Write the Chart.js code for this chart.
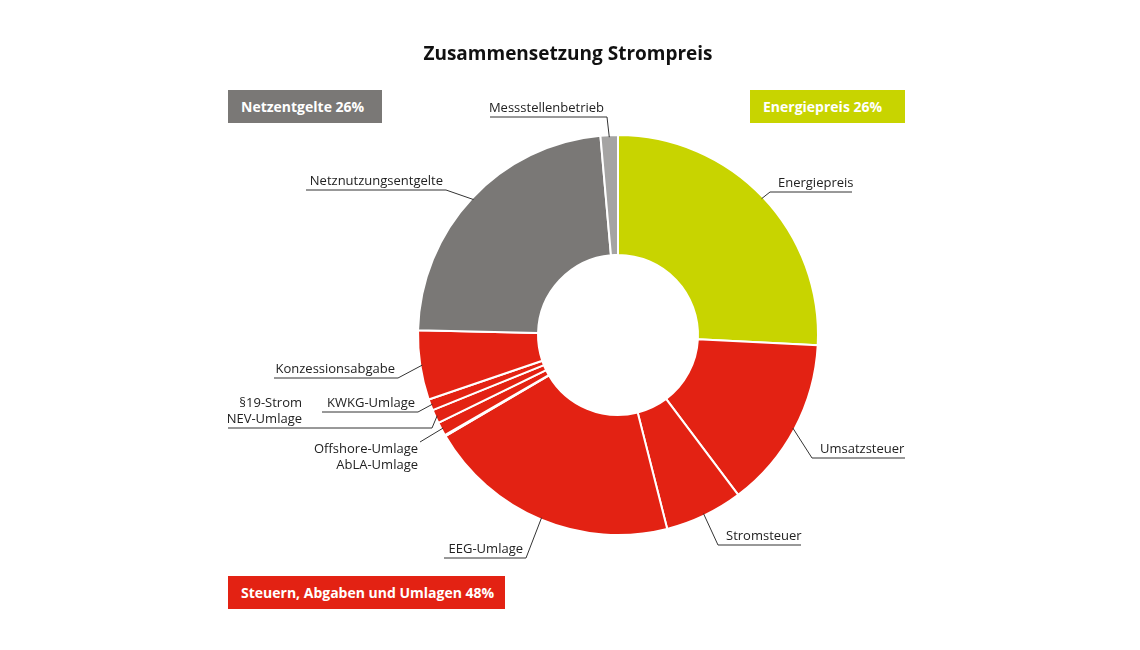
<!DOCTYPE html>
<html>
<head>
<meta charset="utf-8">
<script src="https://cdn.jsdelivr.net/npm/chart.js@4.4.1/dist/chart.umd.min.js"></script>
<style>
  html, body { margin: 0; padding: 0; background: #fff; }
  #wrap { position: relative; width: 1140px; height: 650px; }
  .box {
    position: absolute; color: #fff; font: bold 14px "Open Sans", "DejaVu Sans", sans-serif;
    padding: 0 13px; height: 33px; line-height: 33px; white-space: nowrap;
  }
  #title {
    position: absolute; left: 0; width: 1136px; top: 40px; text-align: center;
    font: bold 19px "Open Sans", "DejaVu Sans", sans-serif; color: #111;
  }
</style>
</head>
<body>
<div id="wrap">
  <canvas id="c" width="1140" height="650"></canvas>
  <div id="title">Zusammensetzung Strompreis</div>
  <div class="box" style="left:228px;top:90px;width:128px;background:#7a7876;">Netzentgelte 26%</div>
  <div class="box" style="left:750px;top:90px;width:129px;background:#c8d400;">Energiepreis 26%</div>
  <div class="box" style="left:228px;top:576px;width:251px;background:#e32213;">Steuern, Abgaben und Umlagen 48%</div>
</div>
<script>
// Data (percent share, clockwise from top)
const categories = ['Energiepreis', 'Umsatzsteuer', 'Stromsteuer', 'EEG-Umlage', 'AbLA-Umlage',
  'Offshore-Umlage', '§19-Strom NEV-Umlage', 'KWKG-Umlage', 'Konzessionsabgabe',
  'Netznutzungsentgelte', 'Messstellenbetrieb'];
const shares = [25.8, 13.9, 6.3, 20.5, 0.1, 1.1, 1.1, 0.9, 5.6, 23.2, 1.4];
const colors = ['#c8d400', '#e32213', '#e32213', '#e32213', '#e32213', '#e32213', '#e32213',
  '#e32213', '#e32213', '#7a7876', '#a5a4a3'];

// Label layout: text lines, anchor side, elbow point, underline end
const labelLayout = [
  { i: 0, lines: ['Energiepreis'], elbow: [770, 192], end: 852, align: 'left' },
  { i: 1, lines: ['Umsatzsteuer'], elbow: [812, 458], end: 905, align: 'left' },
  { i: 2, lines: ['Stromsteuer'], elbow: [718, 545], end: 801, align: 'left' },
  { i: 3, lines: ['EEG-Umlage'], elbow: [526, 558], end: 444, align: 'right' },
  { i: 5, lines: ['Offshore-Umlage', 'AbLA-Umlage'], elbow: [420, 442], end: 420, align: 'right', noLine: true, textY: 474, textEnd: 418 },
  { i: 6, lines: ['§19-Strom', 'NEV-Umlage'], elbow: [432, 428], end: 228, align: 'right', textEnd: 302 },
  { i: 7, lines: ['KWKG-Umlage'], elbow: [418, 412], end: 322, align: 'right' },
  { i: 8, lines: ['Konzessionsabgabe'], elbow: [398, 378], end: 274, align: 'right' },
  { i: 9, lines: ['Netznutzungsentgelte'], elbow: [446, 190], end: 306, align: 'right' },
  { i: 10, lines: ['Messstellenbetrieb'], elbow: [607, 117], end: 490, align: 'right' },
];

const FONT = '13px "Open Sans", "DejaVu Sans", sans-serif';

const leaderPlugin = {
  id: 'leaders',
  afterDatasetsDraw(chart) {
    const ctx = chart.ctx;
    const arcs = chart.getDatasetMeta(0).data;
    ctx.save();
    ctx.strokeStyle = '#333';
    ctx.lineWidth = 1;
    ctx.fillStyle = '#222';
    ctx.font = FONT;
    ctx.textBaseline = 'alphabetic';
    labelLayout.forEach(l => {
      const a = arcs[l.i];
      const mid = (a.startAngle + a.endAngle) / 2;
      const r = a.outerRadius - 2;
      const ax = a.x + Math.cos(mid) * r, ay = a.y + Math.sin(mid) * r;
      const [ex, ey] = l.elbow;
      ctx.beginPath();
      ctx.moveTo(ax, ay);
      ctx.lineTo(ex, ey);
      if (!l.noLine) ctx.lineTo(l.end, ey);
      ctx.stroke();
      const n = l.lines.length;
      const baseY = l.textY || ey;
      l.lines.forEach((t, k) => {
        const y = baseY - 5 - (n - 1 - k) * 16;
        if (l.align === 'left') {
          ctx.textAlign = 'left';
          ctx.fillText(t, ex + 8, y);
        } else {
          ctx.textAlign = 'right';
          ctx.fillText(t, l.textEnd || ex - 3, y);
        }
      });
    });
    ctx.restore();
  }
};

new Chart(document.getElementById('c'), {
  type: 'doughnut',
  data: {
    labels: categories,
    datasets: [{
      data: shares,
      backgroundColor: colors,
      borderColor: '#fff',
      borderWidth: 2,
    }],
  },
  options: {
    responsive: false,
    animation: false,
    cutout: '40%',
    layout: { padding: { top: 134, bottom: 114, left: 417, right: 321 } },
    plugins: {
      legend: { display: false },
      tooltip: { enabled: false },
      title: { display: false },
    },
  },
  plugins: [leaderPlugin],
});
</script>
</body>
</html>
